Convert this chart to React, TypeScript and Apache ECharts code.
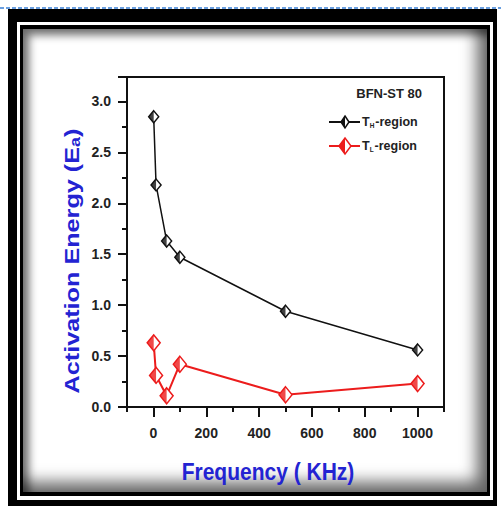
import React, { useEffect, useRef } from "react";
import * as echarts from "echarts";

const freq = [1, 10, 50, 100, 500, 1000];
const thRegion = [2.85, 2.18, 1.63, 1.47, 0.94, 0.56];
const tlRegion = [0.63, 0.31, 0.11, 0.42, 0.12, 0.23];
const xMajorTicks = [0, 200, 400, 600, 800, 1000];
const seriesNames = ["TH-region", "TL-region"];
const legendSubs = ["H", "L"];
const sampleLabel = "BFN-ST 80";
const xTitle = "Frequency ( KHz)";
const yTitleMain = "Activation Energy (E";
const yTitleSub = "a";

const FONT = "Liberation Sans, Arial, Helvetica, sans-serif";
const BLUE = "#2323d2";
const RED = "#ec1c1c";

export default function App() {
  const ref = useRef<HTMLDivElement>(null);

  useEffect(() => {
    const chart = echarts.init(ref.current!, null, { renderer: "svg" });
    const pairs = (ys: number[]) => freq.map((f, i) => [f, ys[i]]);
    const halfPath = "path://M1,0 L0,1 L1,2 Z";

    const mkSeries = (name: string, ys: number[], color: string, w: number, h: number, lw: number) => [
      {
        type: "line",
        name,
        data: pairs(ys),
        symbol: "diamond",
        symbolSize: [w, h],
        lineStyle: { color, width: lw },
        itemStyle: { color: "#fff", borderColor: color, borderWidth: 1.5 },
        z: 3,
      },
      {
        type: "scatter",
        name: name + " fill",
        data: pairs(ys),
        symbol: halfPath,
        symbolSize: [w / 2, h],
        symbolOffset: [-w / 4, 0],
        itemStyle: { color },
        z: 4,
        silent: true,
      },
    ];

    const diamond = (cx: number, cy: number, w: number, h: number, color: string) => [
      {
        type: "polygon",
        shape: { points: [[cx, cy - h / 2], [cx + w / 2, cy], [cx, cy + h / 2], [cx - w / 2, cy]] },
        style: { fill: "#fff", stroke: color, lineWidth: 1.5 },
        z: 101,
      },
      {
        type: "polygon",
        shape: { points: [[cx, cy - h / 2], [cx, cy + h / 2], [cx - w / 2, cy]] },
        style: { fill: color },
        z: 102,
      },
    ];

    const legendItem = (y: number, color: string, w: number, h: number, lw: number, sub: string) => [
      { type: "line", shape: { x1: 329, y1: y, x2: 360, y2: y }, style: { stroke: color, lineWidth: lw }, z: 100 },
      ...diamond(345, y, w, h, color),
      {
        type: "text",
        x: 362,
        y,
        style: {
          text: "T{sub|" + sub + "}-region",
          fill: "#222",
          fontSize: 12.5,
          fontWeight: "bold",
          fontFamily: FONT,
          align: "left",
          verticalAlign: "middle",
          rich: {
            sub: { fontSize: 6.5, fontWeight: "bold", fontFamily: FONT, fill: "#222", verticalAlign: "bottom", padding: [5, 1, 0, 0] },
          },
        },
        z: 100,
      },
    ];

    chart.setOption({
      animation: false,
      grid: { left: 127, top: 77, right: 57, bottom: 99, show: true, borderColor: "#111", borderWidth: 2, backgroundColor: "transparent" },
      xAxis: [
        {
          type: "value",
          min: -100,
          max: 1100,
          interval: 100,
          position: "bottom",
          axisLine: { show: true, onZero: false, lineStyle: { color: "#111", width: 2 } },
          axisTick: { show: true, customValues: xMajorTicks, length: 10, lineStyle: { color: "#111", width: 2 } },
          axisLabel: {
            customValues: xMajorTicks,
            margin: 19,
            fontSize: 14,
            fontWeight: "bold",
            color: "#222",
            fontFamily: FONT,
            formatter: (v: number) => String(v),
          },
          splitLine: { show: false },
        },
        {
          type: "value",
          min: -100,
          max: 1100,
          interval: 100,
          position: "bottom",
          axisLine: { show: false, onZero: false },
          axisTick: { show: true, length: 5, lineStyle: { color: "#111", width: 2 } },
          axisLabel: { show: false },
          splitLine: { show: false },
        },
      ],
      yAxis: {
        type: "value",
        min: 0,
        max: 3.24,
        interval: 0.5,
        axisLine: { show: true, onZero: false, lineStyle: { color: "#111", width: 2 } },
        axisTick: { show: true, length: 9, lineStyle: { color: "#111", width: 2 } },
        minorTick: { show: true, splitNumber: 2, length: 5, lineStyle: { color: "#111", width: 2 } },
        axisLabel: {
          margin: 16,
          fontSize: 14,
          fontWeight: "bold",
          color: "#222",
          fontFamily: FONT,
          showMaxLabel: false,
          formatter: (v: number) => v.toFixed(1),
        },
        splitLine: { show: false },
      },
      series: [
        ...mkSeries(seriesNames[0], thRegion, "#111", 10, 12, 1.5),
        ...mkSeries(seriesNames[1], tlRegion, RED, 13, 16, 2),
      ],
      graphic: [
        {
          type: "text",
          x: 422,
          y: 93,
          style: { text: sampleLabel, fill: "#222", fontSize: 13, fontWeight: "bold", fontFamily: FONT, align: "right", verticalAlign: "middle" },
          z: 100,
        },
        ...legendItem(122, "#111", 8, 12, 2, legendSubs[0]),
        ...legendItem(146, RED, 12, 16, 2, legendSubs[1]),
        {
          type: "text",
          x: 268,
          y: 472,
          scaleY: 1.1,
          style: { text: xTitle, fill: BLUE, fontSize: 21, fontWeight: "bold", fontFamily: FONT, align: "center", verticalAlign: "middle" },
          z: 100,
        },
        {
          type: "text",
          x: 72,
          y: 261,
          rotation: Math.PI / 2,
          scaleX: 1.2,
          style: {
            text: yTitleMain + "{sub|" + yTitleSub + "})",
            fill: BLUE,
            fontSize: 21,
            fontWeight: "bold",
            fontFamily: FONT,
            align: "center",
            verticalAlign: "middle",
            rich: {
              sub: { fontSize: 15, fontWeight: "bold", fontFamily: FONT, fill: BLUE, verticalAlign: "bottom", padding: [6, 0, 0, 0] },
            },
          },
          z: 100,
        },
      ],
    });
    return () => chart.dispose();
  }, []);

  const abs = (s: React.CSSProperties): React.CSSProperties => ({ position: "absolute", ...s });

  return (
    <div style={abs({ left: 0, top: 0, width: 501, height: 506, background: "#fff", overflow: "hidden" })}>
      <div
        style={abs({
          left: 0,
          top: 7,
          width: 501,
          height: 2,
          background: "repeating-linear-gradient(90deg, #6a9fe0 0 4px, transparent 4px 6px)",
        })}
      />
      <div style={abs({ left: 8, top: 9, width: 489, height: 497, background: "#000" })} />
      <div style={abs({ left: 17, top: 22, width: 476, height: 478, background: "#fff" })} />
      <div style={abs({ left: 20, top: 25, width: 470, height: 471, background: "#000" })} />
      <div
        style={abs({
          left: 23,
          top: 29,
          width: 464,
          height: 463,
          background: "#fff",
          boxShadow: "inset 6px 6px 9px rgba(0,0,0,0.55), inset -10px -10px 16px rgba(0,0,0,0.6)",
        })}
      />
      <div ref={ref} style={abs({ left: 0, top: 0, width: 501, height: 506 })} />
    </div>
  );
}
